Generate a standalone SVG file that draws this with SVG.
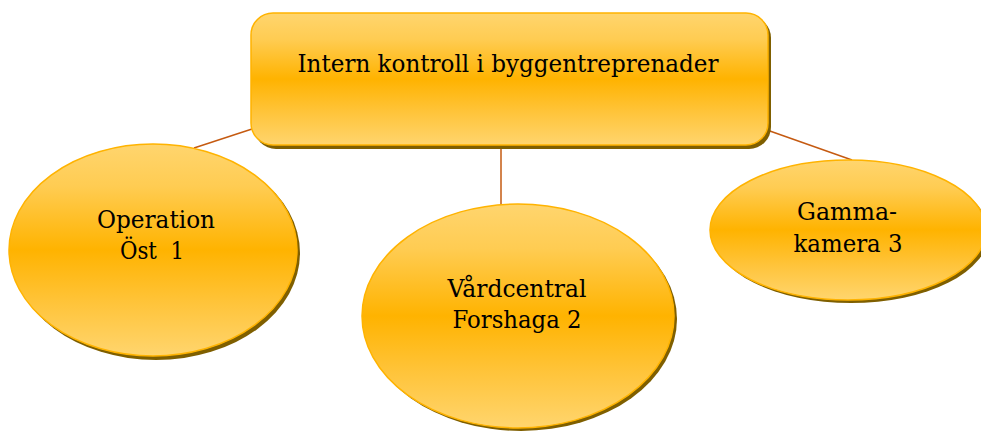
<svg xmlns="http://www.w3.org/2000/svg" width="981" height="438" viewBox="0 0 981 438">
<defs>
<linearGradient id="g" x1="0" y1="0" x2="0" y2="1">
<stop offset="0" stop-color="#ffd56e"/>
<stop offset="0.2" stop-color="#ffcc52"/>
<stop offset="0.5" stop-color="#ffb300"/>
<stop offset="0.75" stop-color="#ffc43a"/>
<stop offset="1" stop-color="#ffd56e"/>
</linearGradient>
</defs>
<style>
.sh{fill:#7f5f00}
.nd{fill:url(#g);stroke:#ffb300;stroke-width:1.5}
.t{font-family:"DejaVu Serif","Liberation Serif",serif;font-size:24px;fill:#000;text-anchor:middle}
.c{stroke:#c55a11;stroke-width:1.5;fill:none}
</style>
<g id="connectors">
<line class="c" x1="194" y1="148" x2="252" y2="129"/>
<line class="c" x1="501" y1="146" x2="501" y2="205"/>
<line class="c" x1="767" y1="130" x2="852" y2="160"/>
</g>
<g id="root">
<rect class="sh" x="254" y="16" width="517" height="133" rx="22"/>
<rect class="nd" x="251" y="13" width="517" height="132" rx="22"/>
<text class="t" x="508" y="72" textLength="421" lengthAdjust="spacingAndGlyphs">Intern kontroll i byggentreprenader</text>
</g>
<g id="n1">
<ellipse class="sh" cx="156" cy="253" rx="144" ry="107"/>
<ellipse class="nd" cx="153" cy="250" rx="144" ry="106"/>
<text class="t" x="156" y="228" textLength="118" lengthAdjust="spacingAndGlyphs">Operation</text>
<text class="t" x="152" y="259" textLength="64" lengthAdjust="spacingAndGlyphs" xml:space="preserve">Öst  1</text>
</g>
<g id="n2">
<ellipse class="sh" cx="521" cy="319" rx="156" ry="112"/>
<ellipse class="nd" cx="518" cy="316" rx="156" ry="112"/>
<text class="t" x="517" y="297" textLength="139" lengthAdjust="spacingAndGlyphs">Vårdcentral</text>
<text class="t" x="517" y="328" textLength="129" lengthAdjust="spacingAndGlyphs">Forshaga 2</text>
</g>
<g id="n3">
<ellipse class="sh" cx="851" cy="233" rx="138" ry="70"/>
<ellipse class="nd" cx="848" cy="230" rx="138" ry="70"/>
<text class="t" x="847" y="220" textLength="100" lengthAdjust="spacingAndGlyphs">Gamma-</text>
<text class="t" x="848" y="252" textLength="109" lengthAdjust="spacingAndGlyphs">kamera 3</text>
</g>
</svg>
